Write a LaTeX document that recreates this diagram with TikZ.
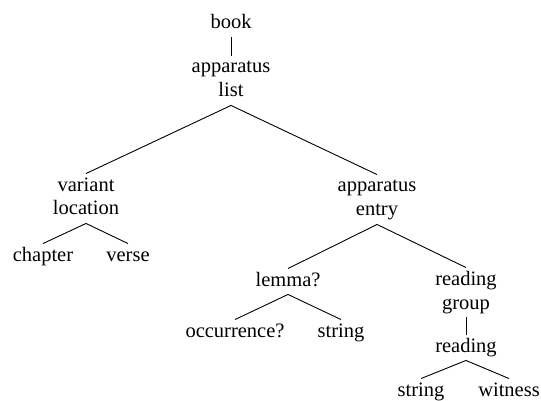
\documentclass[tikz,border=0pt]{standalone}
\usepackage{fontspec}
\setmainfont{Liberation Serif}
\usepackage{tikz}
\usetikzlibrary{positioning}

\begin{document}
\begin{tikzpicture}[x=1pt, y=1pt, line width=0.9pt]
            \tikzset{
                elem/.style={anchor=base, inner sep=3pt,
                        font=\fontsize{20.5}{24}\selectfont,
                        text height=14pt, text depth=5pt},
                elemtwo/.style={elem, text width=100pt, align=center,
                        text depth=29pt}
            }
            \useasboundingbox (0,0) rectangle (541,-401);

            % ---- TOP ----
            \node[elem] (book) at (231,-29) {book};
            \node[elemtwo] (aplist) at (231,-73) {apparatus\\list};

            % ---- LEFT BRANCH ----
            \node[elemtwo] (varloc) at (86,-191) {variant\\location};
            \node[elem] (chapter) at (43,-261) {chapter};
            \node[elem] (verse) at (128,-261) {verse};

            % ---- RIGHT BRANCH ----
            \node[elemtwo] (apentry) at (377,-192) {apparatus\\entry};
            \node[elem] (lemma) at (288,-286) {lemma?};
            \node[elem] (occ) at (235,-337) {occurrence?};
            \node[elem] (lstring) at (341,-337) {string};
            \node[elemtwo] (rgroup) at (466,-285) {reading\\group};
            \node[elem] (reading) at (466,-352) {reading};
            \node[elem] (rstring) at (421,-396) {string};
            \node[elem] (witness) at (509,-396) {witness};

            % ---- EDGES ----
            \foreach \a/\b in {book/aplist, aplist/varloc, aplist/apentry,
                    varloc/chapter, varloc/verse, apentry/lemma, apentry/rgroup,
                    lemma/occ, lemma/lstring, rgroup/reading,
                    reading/rstring, reading/witness} {
                    \draw (\a.south) -- (\b.north);
                }
\end{tikzpicture}
\end{document}
